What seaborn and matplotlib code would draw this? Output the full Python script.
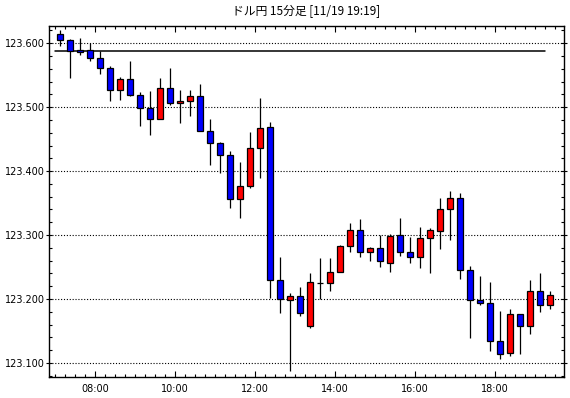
import matplotlib
matplotlib.use("Agg")
import matplotlib.pyplot as plt
import seaborn as sns
import pandas as pd
from matplotlib.ticker import MultipleLocator, FuncFormatter

# ---------------- data ----------------
times = ["07:00", "07:15", "07:30", "07:45", "08:00", "08:15", "08:30", "08:45",
         "09:00", "09:15", "09:30", "09:45", "10:00", "10:15", "10:30", "10:45",
         "11:00", "11:15", "11:30", "11:45", "12:00", "12:15", "12:30", "12:45",
         "13:00", "13:15", "13:30", "13:45", "14:00", "14:15", "14:30", "14:45",
         "15:00", "15:15", "15:30", "15:45", "16:00", "16:15", "16:30", "16:45",
         "17:00", "17:15", "17:30", "17:45", "18:00", "18:15", "18:30", "18:45",
         "19:00", "19:15"]
opens = [123.614, 123.605, 123.589, 123.589, 123.577, 123.561, 123.527, 123.544,
         123.519, 123.498, 123.481, 123.530, 123.506, 123.509, 123.517, 123.463,
         123.444, 123.425, 123.356, 123.377, 123.436, 123.469, 123.230, 123.198,
         123.205, 123.158, 123.2255, 123.225, 123.242, 123.283, 123.308, 123.273,
         123.280, 123.257, 123.300, 123.273, 123.265, 123.295, 123.306, 123.341,
         123.358, 123.245, 123.198, 123.194, 123.134, 123.116, 123.177, 123.157,
         123.2125, 123.191]
highs = [123.621, 123.606, 123.608, 123.600, 123.5875, 123.565, 123.547, 123.572,
         123.5245, 123.5255, 123.546, 123.5615, 123.527, 123.527, 123.5365, 123.482,
         123.446, 123.431, 123.415, 123.4615, 123.5145, 123.477, 123.266, 123.209,
         123.218, 123.240, 123.2635, 123.2635, 123.285, 123.319, 123.3255, 123.281,
         123.300, 123.301, 123.327, 123.297, 123.313, 123.311, 123.358, 123.369,
         123.366, 123.252, 123.2365, 123.227, 123.182, 123.185, 123.177, 123.230,
         123.241, 123.2125]
lows = [123.595, 123.546, 123.582, 123.573, 123.5525, 123.509, 123.511, 123.517,
        123.471, 123.456, 123.481, 123.503, 123.476, 123.4855, 123.4635, 123.410,
        123.3965, 123.343, 123.326, 123.373, 123.3885, 123.2015, 123.1775, 123.0875,
        123.173, 123.155, 123.2005, 123.212, 123.242, 123.273, 123.265, 123.259,
        123.2495, 123.243, 123.267, 123.257, 123.248, 123.240, 123.278, 123.293,
        123.231, 123.1395, 123.190, 123.119, 123.1055, 123.1115, 123.1135, 123.146,
        123.180, 123.184]
closes = [123.605, 123.5875, 123.587, 123.577, 123.561, 123.527, 123.544, 123.519,
          123.498, 123.481, 123.530, 123.506, 123.509, 123.517, 123.463, 123.444,
          123.425, 123.356, 123.377, 123.436, 123.467, 123.229, 123.200, 123.205,
          123.178, 123.2265, 123.2255, 123.242, 123.283, 123.308, 123.273, 123.280,
          123.259, 123.298, 123.273, 123.265, 123.295, 123.308, 123.341, 123.358,
          123.245, 123.198, 123.193, 123.134, 123.1135, 123.177, 123.157, 123.2125,
          123.191, 123.207]
ref_level = 123.5875
title = "ドル円 15分足 [11/19 19:19]"

# ---------------- style ----------------
sns.set_theme(style="white")
plt.rcParams['font.family'] = ['DejaVu Sans']
plt.rcParams['text.color'] = 'black'
plt.rcParams['xtick.color'] = 'black'
plt.rcParams['ytick.color'] = 'black'
plt.rcParams['axes.edgecolor'] = 'black'

df = pd.DataFrame(dict(time=times, open=opens, high=highs, low=lows, close=closes))
df['start'] = [int(t[:2]) + int(t[3:]) / 60 for t in df['time']]
df['hour'] = df['start'] + 0.125  # candle drawn at centre of its 15-min interval
df['body_low'] = df[['open', 'close']].min(axis=1)
df['body_h'] = (df['close'] - df['open']).abs()
df['color'] = ['#ff0000' if c >= o else '#0000ff' for o, c in zip(df['open'], df['close'])]

W, H = 570, 398
fig = plt.figure(figsize=(W / 100, H / 100), dpi=100)
ax = fig.add_axes([49 / W, 1 - 377 / H, (564 - 49) / W, (377 - 26) / H])
ax.set_facecolor('white')

# grid
ax.yaxis.grid(True, which='major', color='black', linestyle=(0, (1, 1.6)), linewidth=0.8, zorder=0)
ax.xaxis.grid(False)
ax.set_axisbelow(True)

# reference line
ref_df = pd.DataFrame({'x': [df['start'].iloc[0], df['start'].iloc[-1]], 'y': [ref_level, ref_level]})
sns.lineplot(data=ref_df, x='x', y='y', color='black', linewidth=1.1, ax=ax, zorder=1)

# wicks
ax.vlines(df['hour'], df['low'], df['high'], color='black', linewidth=0.9, zorder=2)
# bodies
ax.bar(df['hour'], df['body_h'], bottom=df['body_low'], width=0.16,
       color=df['color'], edgecolor='black', linewidth=0.9, zorder=3)

ax.set_xlim(6.8425, 19.72)
ax.set_ylim(123.078, 123.627)
ax.set_xlabel('')
ax.set_ylabel('')

ax.xaxis.set_major_locator(MultipleLocator(2))
ax.xaxis.set_minor_locator(MultipleLocator(0.25))
ax.xaxis.set_major_formatter(FuncFormatter(lambda v, p: f"{int(round(v)):02d}:00"))
ax.yaxis.set_major_locator(MultipleLocator(0.1))
ax.yaxis.set_minor_locator(MultipleLocator(0.02))
ax.yaxis.set_major_formatter(FuncFormatter(lambda v, p: f"{v:.3f}"))

ax.tick_params(axis='x', which='both', direction='in', top=True, bottom=True, labelsize=7, pad=5)
ax.tick_params(axis='x', which='major', length=4.5, width=0.8)
ax.tick_params(axis='x', which='minor', length=2.2, width=0.8)
ax.tick_params(axis='y', which='major', direction='inout', left=True, right=True, length=4, width=0.8,
               labelsize=7, pad=1)
ax.tick_params(axis='y', which='minor', direction='in', left=True, right=True, length=2.2, width=0.8)

for s in ax.spines.values():
    s.set_color('black')
    s.set_linewidth(1.0)
    s.set_visible(True)

fig.text((49 + 564) / 2 / W, 1 - 11 / H, title, ha='center', va='center', fontsize=8.5,
         family=['Noto Sans CJK JP', 'DejaVu Sans'])

fig.savefig('out.png', dpi=100, facecolor='white')
